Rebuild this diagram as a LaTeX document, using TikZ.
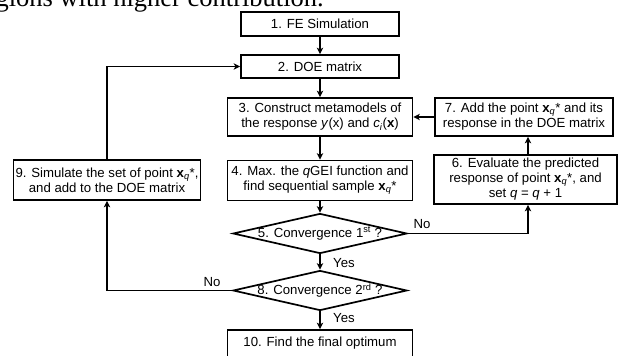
\documentclass[tikz,border=0pt]{standalone}
\usepackage{fontspec}
\setmainfont{Liberation Sans}
\newfontfamily\serifpage{Liberation Serif}
\usetikzlibrary{arrows.meta,shapes.geometric}
\begin{document}
\begin{tikzpicture}[x=1pt,y=-1pt,
  txt/.style={font=\fontsize{13.2}{15}\selectfont},
  box/.style={txt,draw,line width=1.7pt,inner sep=0pt,align=center},
  dia/.style={draw,line width=1.7pt,diamond,inner sep=0pt,aspect=4.35,minimum width=174pt,minimum height=40pt},
  arr/.style={line width=1.7pt,-{Stealth[length=6.5pt,width=6.5pt,inset=1.8pt]}},
  lab/.style={txt,inner sep=0pt}]
\clip (0,0) rectangle (622,356);
\node[font=\serifpage\fontsize{26.5}{30}\selectfont,anchor=base east,inner sep=0pt] (top) at (324,6.5) {gions with higher contribution.};
\node[box,minimum width=158pt,minimum height=24pt] (b1) at (320,24) {1. FE Simulation};
\node[box,minimum width=158pt,minimum height=23pt] (b2) at (320,66.5) {2. DOE matrix};
\node[box,minimum width=185pt,minimum height=38pt] (b3) at (320,117) {3. Construct metamodels of\\the response \textit{y}(x) and \textit{c}\textsubscript{\textit{i}}(\textbf{x})};
\node[box,minimum width=178pt,minimum height=38pt] (b7) at (524,117) {7. Add the point \textbf{x}\textsubscript{\textit{q}}* and its\\response in the DOE matrix};
\node[box,minimum width=185pt,minimum height=40pt] (b4) at (320,180.5) {4. Max. the \textit{q}GEI function and\\find sequential sample \textbf{x}\textsubscript{\textit{q}}*};
\node[box,minimum width=183pt,minimum height=49pt] (b6) at (525.5,179.5) {6. Evaluate the predicted\\response of point \textbf{x}\textsubscript{\textit{q}}*, and\\set \textit{q} = \textit{q} + 1};
\node[box,minimum width=187pt,minimum height=40pt] (b9) at (107,180) {9. Simulate the set of point \textbf{x}\textsubscript{\textit{q}}*,\\and add to the DOE matrix};
\node[dia] (d5) at (320,233.5) {};
\node[txt,inner sep=0pt] (t5) at (320,233.5) {5. Convergence 1\textsuperscript{st} ?};
\node[dia] (d8) at (320,290.5) {};
\node[txt,inner sep=0pt] (t8) at (320,290.5) {8. Convergence 2\textsuperscript{rd} ?};
\node[box,minimum width=185pt,minimum height=34pt] (b10) at (320,347) {};
\node[txt,inner sep=0pt] (t10) at (320,343) {10. Find the final optimum};
\node[lab] (n1) at (422,224) {No};
\node[lab] (y1) at (344,263) {Yes};
\node[lab] (n2) at (212,282) {No};
\node[lab] (y2) at (344,318) {Yes};
\coordinate (vx) at (528,0);
\draw[arr] (b1) -- (b2);
\draw[arr] (b2) -- (b3);
\draw[arr] (b3) -- (b4);
\draw[arr] (b4) -- (d5);
\draw[arr] (d5) -- (d8);
\draw[arr] (d8) -- (b10);
\draw[arr] (d5.east) -| (vx |- b6.south);
\draw[arr] (vx |- b6.north) -- (vx |- b7.south);
\draw[arr] (b7) -- (b3);
\draw[arr] (d8.west) -| (b9.south);
\draw[arr] (b9.north) |- (b2.west);
\end{tikzpicture}
\end{document}
